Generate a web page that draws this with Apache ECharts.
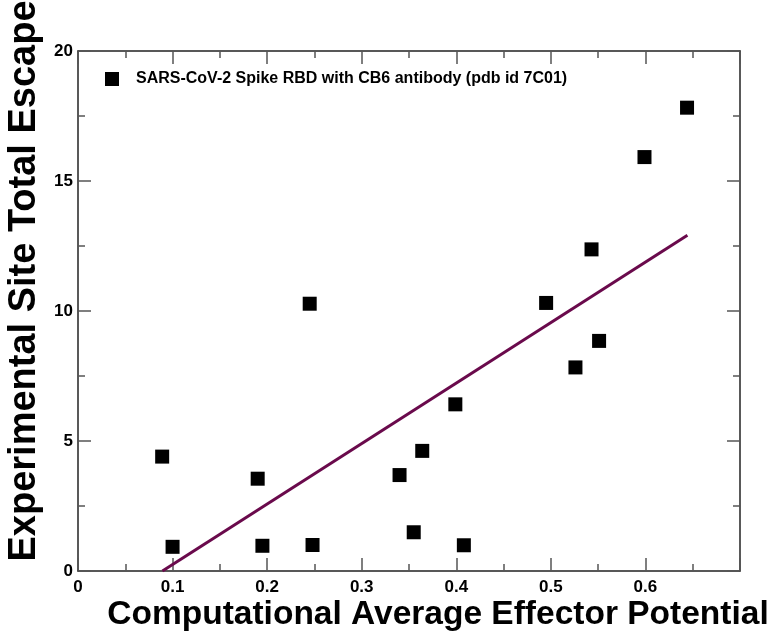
<!DOCTYPE html>
<html>
<head>
<meta charset="utf-8">
<script src="https://cdn.jsdelivr.net/npm/echarts@6/dist/echarts.min.js"></script>
<style>
html,body{margin:0;padding:0;background:#fff;}
#chart{width:771px;height:633px;}
</style>
</head>
<body>
<div id="chart"></div>
<script>
// Data
var seriesName = 'SARS-CoV-2 Spike RBD with CB6 antibody (pdb id 7C01)';
var xValues = [0.089, 0.100, 0.190, 0.195, 0.245, 0.248, 0.340, 0.355, 0.364, 0.399, 0.408, 0.495, 0.526, 0.543, 0.551, 0.599, 0.644];
var yValues = [4.40, 0.93, 3.55, 0.97, 10.28, 1.00, 3.69, 1.49, 4.62, 6.41, 0.99, 10.31, 7.83, 12.37, 8.85, 15.92, 17.82];
var fitX = [0.0893, 0.6444];
var fitY = [0.0, 12.91];
var xTicks = ['0', '0.1', '0.2', '0.3', '0.4', '0.5', '0.6'];
var yTicks = ['0', '5', '10', '15', '20'];
var xTitle = 'Computational Average Effector Potential';
var yTitle = 'Experimental Site Total Escape';

var points = xValues.map(function (x, i) { return [x, yValues[i]]; });
var fitLine = fitX.map(function (x, i) { return [x, fitY[i]]; });

var FONT = 'Liberation Sans, Arial, sans-serif';
var axisLineStyle = { color: '#222', width: 1.5 };
var tickStyle = { color: '#555', width: 1.5 };

function xAxisCfg(pos, showLabels) {
  return {
    type: 'value', position: pos, min: 0, max: 0.7, interval: 0.1,
    axisLine: { show: true, onZero: false, lineStyle: axisLineStyle },
    axisTick: { show: true, inside: true, length: 13, lineStyle: tickStyle },
    minorTick: { show: true, splitNumber: 2, length: 7, lineStyle: tickStyle },
    splitLine: { show: false },
    axisLabel: {
      show: showLabels, margin: 8, color: '#000', fontFamily: FONT, fontWeight: 'bold', fontSize: 17,
      formatter: function (v) {
        var s = (Math.round(v * 10) / 10).toString();
        return xTicks.indexOf(s) >= 0 ? s : '';
      }
    }
  };
}
function yAxisCfg(pos, showLabels) {
  return {
    type: 'value', position: pos, min: 0, max: 20, interval: 5,
    axisLine: { show: true, onZero: false, lineStyle: axisLineStyle },
    axisTick: { show: true, inside: true, length: 13, lineStyle: tickStyle },
    minorTick: { show: true, splitNumber: 2, length: 7, lineStyle: tickStyle },
    splitLine: { show: false },
    axisLabel: {
      show: showLabels, margin: 5, color: '#000', fontFamily: FONT, fontWeight: 'bold', fontSize: 17,
      formatter: function (v) {
        var s = String(v);
        return yTicks.indexOf(s) >= 0 ? s : '';
      }
    }
  };
}

var chart = echarts.init(document.getElementById('chart'), null, { renderer: 'canvas' });
chart.setOption({
  animation: false,
  backgroundColor: '#fff',
  grid: { left: 78, right: 31, top: 51, bottom: 62, containLabel: false },
  xAxis: [xAxisCfg('bottom', true), xAxisCfg('top', false)],
  yAxis: [yAxisCfg('left', true), yAxisCfg('right', false)],
  legend: {
    show: true, left: 100, top: 66, orient: 'vertical',
    itemWidth: 14, itemHeight: 14,
    data: [{ name: seriesName, icon: 'rect', itemStyle: { color: '#000', opacity: 1 } }],
    textStyle: { fontFamily: FONT, fontWeight: 'bold', fontSize: 16, color: '#000', padding: [0, 0, 0, 12] }
  },
  graphic: [
    {
      type: 'text',
      style: { text: xTitle, x: 438, y: 615, align: 'center', verticalAlign: 'middle',
        font: 'bold 33.5px ' + FONT, fill: '#000' }
    },
    {
      type: 'text', rotation: Math.PI / 2, x: 25, y: 281,
      style: { text: yTitle, x: 0, y: 0, align: 'center', verticalAlign: 'middle',
        font: 'bold 38px ' + FONT, fill: '#000' }
    }
  ],
  series: [
    {
      name: seriesName, type: 'scatter', xAxisIndex: 0, yAxisIndex: 0,
      symbol: 'rect', symbolSize: 14, data: points,
      itemStyle: { color: '#000', opacity: 1 }, z: 3
    },
    {
      name: 'fit', type: 'line', xAxisIndex: 0, yAxisIndex: 0,
      data: fitLine, showSymbol: false, symbol: 'none',
      lineStyle: { color: '#6a0a4c', width: 3 }, z: 2
    }
  ]
});
</script>
</body>
</html>
